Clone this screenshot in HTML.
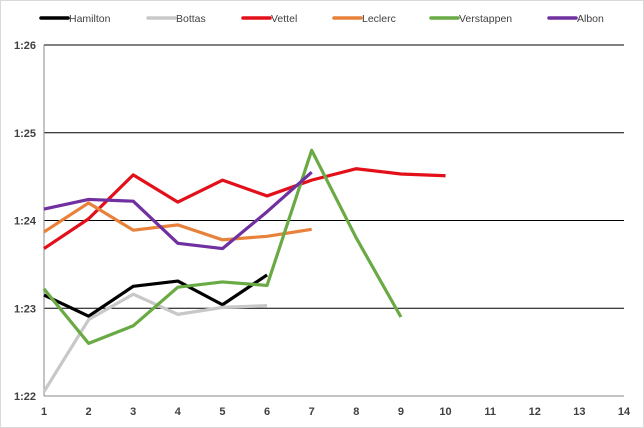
<!DOCTYPE html>
<html><head><meta charset="utf-8"><style>
body{margin:0;background:#fff;}
svg{display:block;font-family:"Liberation Sans",sans-serif;}
</style></head><body>
<svg id="chart" width="644" height="428">
<rect x="0.5" y="0.5" width="643" height="427" fill="#fff" stroke="#d9d9d9"/>
<g id="grid"></g><g id="series"></g><g id="legend"></g>
</svg>
<script>
const laps=[1,2,3,4,5,6,7,8,9,10,11,12,13,14];
const yTicks=[22,23,24,25,26];
const yTickLabels=["1:22","1:23","1:24","1:25","1:26"];
const names=["Hamilton","Bottas","Vettel","Leclerc","Verstappen","Albon"];
const colors=["#000000","#c8c8c8","#e3101a","#e8823a","#6aaa44","#7030a0"];
const hamilton=[23.15,22.91,23.25,23.31,23.04,23.38];
const bottas=[22.05,22.87,23.16,22.93,23.01,23.03];
const vettel=[23.68,24.02,24.52,24.21,24.46,24.28,24.46,24.59,24.53,24.51];
const leclerc=[23.87,24.2,23.89,23.95,23.78,23.82,23.9];
const verstappen=[23.22,22.6,22.8,23.24,23.3,23.26,24.8,23.8,22.9];
const albon=[24.13,24.24,24.22,23.74,23.68,24.1,24.55];
const allSeries=[hamilton,bottas,vettel,leclerc,verstappen,albon];
const NS="http://www.w3.org/2000/svg";
const X0=44,X1=624,Y0=396,Y1=45;
const xs=v=>X0+(v-1)*(X1-X0)/13;
const ys=v=>Y0-(v-22)*(Y0-Y1)/4;
function mk(t,a,p){const e=document.createElementNS(NS,t);for(const k in a)e.setAttribute(k,a[k]);p.appendChild(e);return e;}
const g=document.getElementById('grid');
yTicks.forEach((t,i)=>{
 const l=mk('line',{x1:X0,x2:X1,y1:ys(t),y2:ys(t),stroke:i==0?'#888':'#000','stroke-width':1},g);
 
 
 const tx=mk('text',{x:X0-8,y:ys(t)+4,'text-anchor':'end','font-size':11,'font-weight':'bold',fill:'#404040'},g);
 tx.textContent=yTickLabels[i];
 
 
});
const ax=mk('line',{x1:X0,x2:X0,y1:Y1,y2:Y0,stroke:'#888','stroke-width':1},g);


laps.forEach(v=>{
 const tx=mk('text',{x:xs(v),y:Y0+19,'text-anchor':'middle','font-size':11,'font-weight':'bold',fill:'#404040'},g);
 tx.textContent=v;
 
 
});
const sg=document.getElementById('series');
allSeries.forEach((s,i)=>{
 const p=mk('polyline',{points:s.map((v,j)=>xs(laps[j])+','+ys(v)).join(' '),fill:'none',stroke:colors[i],'stroke-width':3.2,'stroke-linejoin':'round'},sg);
 
 
});
const lg=document.getElementById('legend');
const lx=[41,148,243,334,431,549];
names.forEach((n,i)=>{
 const e=mk('g',{},lg);
 
 
 mk('line',{x1:lx[i],x2:lx[i]+27,y1:18,y2:18,stroke:colors[i],'stroke-width':3.5,'stroke-linecap':'round'},e);
 const t=mk('text',{x:lx[i]+28,y:22,'font-size':10.5,fill:'#404040'},e);
 t.textContent=n;
});
</script>
</body></html>
